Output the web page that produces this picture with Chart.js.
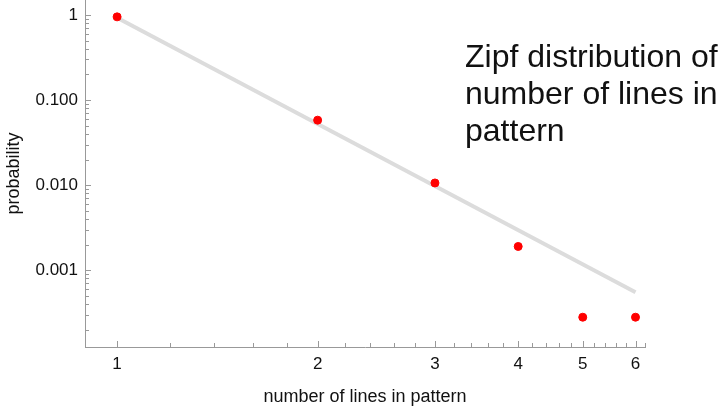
<!DOCTYPE html>
<html>
<head>
<meta charset="utf-8">
<script src="https://cdn.jsdelivr.net/npm/chart.js@4.4.0/dist/chart.umd.min.js"></script>
<style>
html, body { margin: 0; padding: 0; background: #fff; }
#wrap { position: relative; width: 721px; height: 408px; }
#note {
    position: absolute; left: 465px; top: 38px;
    font-family: "Liberation Sans", Arial, sans-serif;
    font-size: 32px; line-height: 37px; color: #111;
    white-space: nowrap;
}
</style>
</head>
<body>
<div id="wrap">
    <canvas id="chart" width="721" height="408"></canvas>
    <div id="note">Zipf distribution of<br>number of lines in<br>pattern</div>
</div>
<script>
// observed frequencies
var lineCounts = [1, 2, 3, 4, 5, 6];
var probabilities = [0.95, 0.058, 0.0106, 0.0019, 0.00028, 0.00028];

// fitted zipf line (end points)
var fitX = [1, 6];
var fitY = [0.93, 0.00055];

var xTicks = [1, 2, 3, 4, 5, 6];
var yTicks = [1, 0.1, 0.01, 0.001];
var yTickLabels = ['1', '0.100', '0.010', '0.001'];

var xMinor = [];
for (var i = 1; i <= 6; i++) {
    [0.2, 0.4, 0.6, 0.8].forEach(function(f) { xMinor.push(i + f); });
}
var yMinor = [];
[1, 0.1, 0.01, 0.001, 0.0001].forEach(function(d) {
    for (var k = 2; k <= 9; k++) yMinor.push(d * k);
});

var font = "'Liberation Sans', Arial, sans-serif";

// inward tick marks like the original
var innerTicks = {
    id: 'innerTicks',
    afterDraw: function(chart) {
        var ctx = chart.ctx, x = chart.scales.x, y = chart.scales.y;
        ctx.save();
        ctx.strokeStyle = '#999';
        ctx.lineWidth = 1;
        ctx.beginPath();
        function xt(v, len) {
            if (v < x.min || v > x.max) return;
            var px = Math.round(x.getPixelForValue(v)) + 0.5;
            ctx.moveTo(px, x.top); ctx.lineTo(px, x.top - len);
        }
        function yt(v, len) {
            if (v < y.min || v > y.max) return;
            var py = Math.round(y.getPixelForValue(v)) + 0.5;
            ctx.moveTo(y.right, py); ctx.lineTo(y.right + len, py);
        }
        xTicks.forEach(function(v) { xt(v, 6); });
        xMinor.forEach(function(v) { xt(v, 4); });
        yTicks.forEach(function(v) { yt(v, 6); });
        yMinor.forEach(function(v) { yt(v, 4); });
        ctx.stroke();
        ctx.restore();
    }
};

function noEdgePadding(s) {
    s.paddingTop = 0; s.paddingBottom = 0;
    s.paddingLeft = 0; s.paddingRight = 0;
}

new Chart(document.getElementById('chart'), {
    type: 'scatter',
    data: {
        datasets: [
            {
                data: lineCounts.map(function(c, i) { return {x: c, y: probabilities[i]}; }),
                backgroundColor: '#ff0000',
                borderColor: '#ff0000',
                pointRadius: 4,
                clip: false,
                order: 1
            },
            {
                data: fitX.map(function(c, i) { return {x: c, y: fitY[i]}; }),
                showLine: true,
                borderColor: '#dcdcdc',
                borderWidth: 4,
                pointRadius: 0,
                order: 2
            }
        ]
    },
    options: {
        responsive: false,
        animation: false,
        devicePixelRatio: 1,
        layout: { autoPadding: false, padding: { top: 0, right: 76, left: 0, bottom: 0 } },
        plugins: { legend: { display: false }, tooltip: { enabled: false } },
        scales: {
            x: {
                type: 'logarithmic',
                min: 0.895,
                max: 6.2,
                afterFit: function(s) { s.height = 61; noEdgePadding(s); },
                afterBuildTicks: function(s) {
                    s.ticks = xTicks.map(function(v) { return {value: v}; });
                },
                grid: { display: false, drawTicks: false },
                border: { display: true, color: '#999' },
                ticks: {
                    padding: 7,
                    color: '#111',
                    maxRotation: 0,
                    autoSkip: false,
                    font: { family: font, size: 17 },
                    callback: function(v) { return String(v); }
                },
                title: {
                    display: true,
                    text: 'number of lines in pattern',
                    color: '#111',
                    padding: { top: 0, bottom: 0 },
                    font: { family: font, size: 18 }
                }
            },
            y: {
                type: 'logarithmic',
                min: 0.000125,
                max: 1.5,
                afterFit: function(s) { s.width = 85; noEdgePadding(s); },
                afterBuildTicks: function(s) {
                    s.ticks = yTicks.map(function(v) { return {value: v}; });
                },
                grid: { display: false, drawTicks: false },
                border: { display: true, color: '#999' },
                ticks: {
                    padding: 7,
                    color: '#111',
                    autoSkip: false,
                    font: { family: font, size: 17 },
                    callback: function(v) { return yTickLabels[yTicks.indexOf(v)]; }
                },
                title: {
                    display: true,
                    text: 'probability',
                    color: '#111',
                    padding: { top: 3, bottom: 0 },
                    font: { family: font, size: 18 }
                }
            }
        }
    },
    plugins: [innerTicks]
});
</script>
</body>
</html>
